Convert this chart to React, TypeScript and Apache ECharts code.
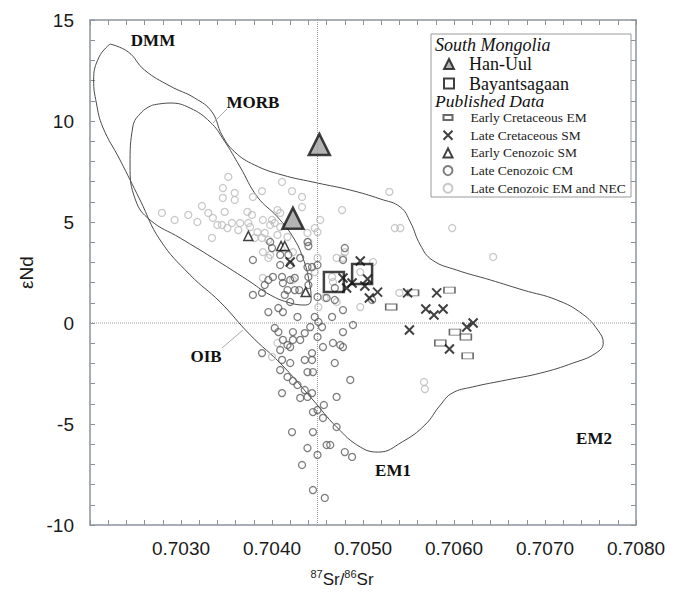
import React, { useEffect, useRef } from "react";
import * as echarts from "echarts";

const X_MIN = 0.702;
const X_MAX = 0.708;
const X_STEP = 0.001;
const Y_MIN = -10;
const Y_MAX = 15;
const Y_STEP = 5;

const hanUul = [
  [0.70452, 8.84],
  [0.70423, 5.18],
];
const bayantsagaan = [
  [0.70468, 2.03],
  [0.70499, 2.43],
];
const earlyCretaceousEM = [
  [0.70555, 1.49], [0.70595, 1.63], [0.70531, 0.79], [0.70601, -0.45],
  [0.70613, -0.69], [0.70585, -0.99], [0.70615, -1.63],
];
const lateCretaceousSM = [
  [0.7042, 3.02], [0.70478, 2.23], [0.70482, 1.73], [0.70488, 1.98], [0.70497, 3.07],
  [0.70505, 2.18], [0.70502, 1.83], [0.70507, 1.24], [0.70516, 1.53], [0.70549, 1.49],
  [0.70581, 1.49], [0.70569, 0.69], [0.70578, 0.4], [0.70588, 0.69], [0.70551, -0.35],
  [0.70614, -0.2], [0.70621, 0.0], [0.70595, -1.29],
];
const earlyCenozoicSM = [
  [0.70374, 4.31], [0.7041, 3.81], [0.70414, 3.81], [0.70437, 1.53],
];
const lateCenozoicCM = [
  [0.70398, 4.01], [0.704, 3.71], [0.70409, 3.37], [0.70418, 3.37], [0.70379, 3.12],
  [0.70431, 3.22], [0.70439, 4.01], [0.7044, 3.81], [0.70409, 2.87], [0.7042, 2.87],
  [0.70439, 2.77], [0.70444, 2.77], [0.7045, 2.87], [0.7044, 2.28], [0.70401, 2.28],
  [0.70396, 2.13], [0.70392, 1.88], [0.70411, 2.28], [0.70412, 1.98], [0.7042, 2.13],
  [0.70425, 2.23], [0.70425, 1.63], [0.7043, 1.63], [0.70417, 1.63], [0.70379, 1.39],
  [0.70389, 1.49], [0.70414, 1.39], [0.7044, 1.88], [0.7045, 1.29], [0.7042, 1.04],
  [0.70407, 0.74], [0.70396, 0.54], [0.70412, 0.54], [0.70428, 0.3], [0.70447, 0.3],
  [0.70451, 0.05], [0.70455, -0.2], [0.70466, 0.3], [0.70478, 0.64], [0.70489, -0.1],
  [0.70478, -0.45], [0.70403, -0.25], [0.70407, -0.45], [0.70423, -0.45], [0.70436, -0.5],
  [0.70442, -0.2], [0.7045, -0.69], [0.70456, -1.19], [0.70412, -0.84], [0.70417, -1.09],
  [0.70423, -0.84], [0.70431, -0.84], [0.70467, -0.99], [0.70475, -1.09], [0.7048, 3.71],
  [0.70478, 3.12], [0.7046, 1.24], [0.70469, 1.14], [0.70469, 1.73], [0.70389, -1.49],
  [0.70409, -1.34], [0.70411, -1.83], [0.7042, -1.98], [0.7042, -1.19], [0.70436, -1.83],
  [0.70444, -1.83], [0.70444, -1.49], [0.70439, -2.43], [0.70445, -2.43], [0.70478, -1.19],
  [0.70469, -1.98], [0.70409, -2.33], [0.70417, -2.67], [0.70423, -2.87], [0.70428, -3.07],
  [0.70436, -3.32], [0.70411, -3.47], [0.70431, -3.71], [0.70439, -3.66], [0.70444, -3.47],
  [0.70457, -4.06], [0.7045, -4.31], [0.70445, -4.41], [0.70471, -3.66], [0.70486, -2.82],
  [0.70456, -4.7], [0.70471, -5.15], [0.70422, -5.4], [0.70445, -5.4], [0.70439, -6.19],
  [0.7046, -6.04], [0.70464, -6.04], [0.7045, -6.53], [0.7048, -6.39], [0.70488, -6.63],
  [0.70433, -7.03], [0.70445, -8.27], [0.70458, -8.66], [0.7051, 1.14],
];
const lateCenozoicEMNEC = [
  [0.70308, 5.35], [0.70346, 6.68], [0.70359, 6.44], [0.70346, 6.19], [0.70359, 6.09],
  [0.70389, 6.53], [0.70379, 6.24], [0.70411, 6.98], [0.70422, 6.53], [0.70433, 6.24],
  [0.70433, 5.74], [0.7033, 5.45], [0.70335, 5.2], [0.70348, 5.5], [0.70373, 5.5],
  [0.70378, 5.35], [0.70406, 5.59], [0.70409, 5.45], [0.7034, 4.85], [0.70345, 4.85],
  [0.70356, 4.95], [0.70365, 4.95], [0.70351, 4.7], [0.70374, 4.95], [0.70376, 4.75],
  [0.7039, 5.1], [0.704, 5.1], [0.70398, 4.85], [0.70403, 4.95], [0.70409, 4.75],
  [0.70453, 5.1], [0.70447, 4.7], [0.7045, 4.5], [0.70334, 4.21], [0.70363, 4.6],
  [0.70384, 4.5], [0.70381, 4.21], [0.70389, 4.21], [0.70392, 4.46], [0.70396, 4.11],
  [0.70406, 4.36], [0.70417, 4.26], [0.70439, 4.46], [0.7044, 4.01], [0.70477, 5.59],
  [0.7039, 3.51], [0.70398, 3.37], [0.70396, 3.22], [0.70423, 3.51], [0.7045, 3.22],
  [0.7048, 3.51], [0.70478, 3.22], [0.70471, 3.22], [0.70447, 2.52], [0.70423, 2.13],
  [0.7039, 2.23], [0.70451, 0.79], [0.70458, 1.24], [0.70471, 1.04], [0.70466, 2.28],
  [0.70467, 2.03], [0.70406, -0.99], [0.70529, 6.49], [0.70535, 4.7], [0.70541, 4.7],
  [0.70598, 4.7], [0.70643, 3.27], [0.70511, 3.02], [0.70497, 2.52], [0.70497, 0.79],
  [0.7054, 1.49], [0.70567, -2.92], [0.70568, -3.27], [0.70279, 5.45], [0.70293, 5.1],
  [0.70318, 5.0], [0.70352, 7.23], [0.70323, 5.79], [0.704, -1.68],
];
const oibEnvelope = [
  [0.70222, 13.81], [0.70242, 13.42], [0.7026, 12.52], [0.70288, 11.73], [0.70315, 11.14],
  [0.70334, 10.45], [0.70345, 9.31], [0.70359, 8.47], [0.70381, 7.82], [0.70411, 7.33],
  [0.7045, 6.93], [0.70486, 6.58], [0.70519, 6.14], [0.70541, 5.74], [0.70552, 5.0],
  [0.70563, 3.86], [0.70576, 3.12], [0.70603, 2.62], [0.7064, 2.13], [0.70676, 1.63],
  [0.70713, 1.14], [0.70741, 0.45], [0.70758, -0.35], [0.70764, -0.99], [0.70756, -1.49],
  [0.70731, -1.98], [0.70695, -2.48], [0.70658, -2.82], [0.7062, -3.17], [0.70598, -3.47],
  [0.70585, -4.06], [0.70568, -5.05], [0.70543, -5.89], [0.70517, -6.39], [0.70497, -6.14],
  [0.70471, -5.15], [0.70445, -3.81], [0.70411, -2.08], [0.70376, -0.59], [0.70343, 1.04],
  [0.7031, 2.38], [0.70277, 4.11], [0.70255, 6.09], [0.70233, 8.07], [0.70214, 9.7],
  [0.70207, 10.89], [0.70204, 12.03], [0.7021, 13.17], [0.70222, 13.81],
];
const morbField = [
  [0.70269, 10.79], [0.70288, 10.89], [0.7031, 10.64], [0.70332, 9.95], [0.70347, 9.06],
  [0.70365, 7.72], [0.70384, 6.24], [0.70406, 5.25], [0.70423, 4.26], [0.70434, 3.22],
  [0.70441, 2.03], [0.70443, 1.14], [0.70437, 0.89], [0.7042, 0.99], [0.70398, 1.39],
  [0.70373, 2.13], [0.70335, 3.22], [0.70299, 4.21], [0.70266, 5.1], [0.7025, 6.09],
  [0.70244, 7.82], [0.70247, 9.7], [0.70257, 10.45], [0.70269, 10.79],
];
const refSr = 0.7045;
const refNd = 0;

const SERIF = "'Liberation Serif', 'Times New Roman', serif";
const SANS = "'Liberation Sans', Arial, sans-serif";
const AXIS_COLOR = "#8d939d";
const CROSS = "path://M1,1L9,9M9,1L1,9";
const FLAT_RECT = "path://M0,0L11,0L11,6L0,6Z";

function xAxisDef(top: boolean) {
  return {
    type: "value",
    position: top ? "top" : "bottom",
    min: X_MIN,
    max: X_MAX,
    interval: X_STEP,
    axisLine: { show: true, onZero: false, lineStyle: { color: AXIS_COLOR, width: 1.5 } },
    axisTick: { show: true, inside: true, length: 5, lineStyle: { color: AXIS_COLOR, width: 1 } },
    minorTick: { show: true, splitNumber: 5, length: 5, lineStyle: { color: AXIS_COLOR, width: 1 } },
    splitLine: { show: false },
    minorSplitLine: { show: false },
    axisLabel: top
      ? { show: false }
      : {
          show: true,
          margin: 14,
          fontSize: 19,
          color: "#1a1a1a",
          fontFamily: SANS,
          formatter: (v: number) => (v < X_MIN + X_STEP / 2 ? "" : v.toFixed(4)),
        },
  };
}

function yAxisDef(right: boolean) {
  return {
    type: "value",
    position: right ? "right" : "left",
    min: Y_MIN,
    max: Y_MAX,
    interval: Y_STEP,
    name: right ? "" : "εNd",
    nameLocation: "middle",
    nameGap: 52,
    nameTextStyle: { fontSize: 19, fontFamily: SANS, color: "#1a1a1a" },
    axisLine: { show: true, onZero: false, lineStyle: { color: AXIS_COLOR, width: 1.5 } },
    axisTick: { show: true, inside: true, length: 5, lineStyle: { color: AXIS_COLOR, width: 1 } },
    minorTick: { show: true, splitNumber: 5, length: 5, lineStyle: { color: AXIS_COLOR, width: 1 } },
    splitLine: { show: false },
    minorSplitLine: { show: false },
    axisLabel: right
      ? { show: false }
      : { show: true, margin: 16, fontSize: 19, color: "#1a1a1a", fontFamily: SANS },
  };
}

function scatter(name: string, data: number[][], symbol: string, size: any, itemStyle: any, z: number) {
  return { type: "scatter", name, data, symbol, symbolSize: size, itemStyle, z, silent: true };
}

function fieldLine(data: number[][]) {
  return {
    type: "line",
    data,
    smooth: 0.45,
    symbol: "none",
    lineStyle: { color: "#4a4a4a", width: 1 },
    z: 1,
    silent: true,
  };
}

function refLine(data: number[][]) {
  return {
    type: "line",
    data,
    symbol: "none",
    lineStyle: { color: "#9a9a9a", width: 1, type: "dotted" },
    z: 1,
    silent: true,
  };
}

function fieldLabel(text: string, x: number, y: number) {
  return {
    type: "text",
    x,
    y,
    style: {
      text,
      fontFamily: SERIF,
      fontWeight: "bold",
      fontSize: 17,
      fill: "#111",
      align: "center",
      verticalAlign: "middle",
    },
    z: 10,
  };
}

export default function App() {
  const ref = useRef<HTMLDivElement>(null);
  useEffect(() => {
    if (!ref.current) return;
    const chart = echarts.init(ref.current, undefined, { renderer: "svg" });
    const option: any = {
      animation: false,
      backgroundColor: "#fff",
      grid: { left: 90, right: 50, top: 20, bottom: 70 },
      xAxis: [xAxisDef(false), xAxisDef(true)],
      yAxis: [yAxisDef(false), yAxisDef(true)],
      legend: [
        {
          orient: "vertical",
          left: 443,
          top: 55,
          padding: 0,
          itemWidth: 10,
          itemHeight: 10,
          itemGap: 1.5,
          selectedMode: false,
          textStyle: { fontFamily: SERIF, fontSize: 18, color: "#111", lineHeight: 16, padding: [0, 0, 0, 10] },
          data: ["Han-Uul", "Bayantsagaan"],
        },
        {
          orient: "vertical",
          left: 442.5,
          top: 110.5,
          padding: 0,
          itemWidth: 9,
          itemHeight: 9,
          itemGap: 3.7,
          selectedMode: false,
          textStyle: { fontFamily: SERIF, fontSize: 13.5, color: "#222", padding: [0, 0, 0, 13] },
          data: [
            "Early Cretaceous EM",
            "Late Cretaceous SM",
            "Early Cenozoic SM",
            "Late Cenozoic CM",
            "Late Cenozoic EM and NEC",
          ],
        },
      ],
      graphic: [
        {
          type: "rect",
          shape: { x: 431, y: 34, width: 200, height: 163 },
          style: { fill: "#fff", stroke: "#9a9a9a", lineWidth: 1 },
          z: 0,
        },
        {
          type: "text",
          x: 435,
          y: 45,
          style: { text: "South Mongolia", fontFamily: SERIF, fontStyle: "italic", fontSize: 18, fill: "#111", verticalAlign: "middle" },
          z: 10,
        },
        {
          type: "text",
          x: 435,
          y: 101,
          style: { text: "Published Data", fontFamily: SERIF, fontStyle: "italic", fontSize: 17.5, fill: "#111", verticalAlign: "middle" },
          z: 10,
        },
        fieldLabel("DMM", 153, 40),
        fieldLabel("MORB", 253, 102),
        fieldLabel("OIB", 206, 356),
        fieldLabel("EM1", 393, 470),
        fieldLabel("EM2", 594, 438),
        {
          type: "line",
          shape: { x1: 227, y1: 109, x2: 213, y2: 123 },
          style: { stroke: "#aaa", lineWidth: 1 },
          z: 10,
        },
        {
          type: "line",
          shape: { x1: 222, y1: 348, x2: 243, y2: 330 },
          style: { stroke: "#aaa", lineWidth: 1 },
          z: 10,
        },
        {
          type: "text",
          x: 342,
          y: 578,
          style: {
            text: "{s|87}{n|Sr/}{s|86}{n|Sr}",
            align: "center",
            verticalAlign: "middle",
            fill: "#1a1a1a",
            fontFamily: SANS,
            rich: {
              s: { fontSize: 11, lineHeight: 12, verticalAlign: "top", fontFamily: SANS, fill: "#1a1a1a" },
              n: { fontSize: 17, lineHeight: 20, verticalAlign: "bottom", fontFamily: SANS, fill: "#1a1a1a" },
            },
          },
          z: 10,
        },
      ],
      series: [
        scatter("Late Cenozoic EM and NEC", lateCenozoicEMNEC, "circle", 7,
          { color: "rgba(0,0,0,0)", borderColor: "#bcbcbc", borderWidth: 1.3 }, 2),
        scatter("Late Cenozoic CM", lateCenozoicCM, "circle", 7,
          { color: "rgba(0,0,0,0)", borderColor: "#5e5e5e", borderWidth: 1.3 }, 3),
        fieldLine(oibEnvelope),
        fieldLine(morbField),
        refLine([[refSr, Y_MIN], [refSr, Y_MAX]]),
        refLine([[X_MIN, refNd], [X_MAX, refNd]]),
        scatter("Early Cretaceous EM", earlyCretaceousEM, FLAT_RECT, [11, 6],
          { color: "#fff", borderColor: "#444", borderWidth: 1.2 }, 4),
        scatter("Late Cretaceous SM", lateCretaceousSM, CROSS, 9,
          { color: "rgba(0,0,0,0)", borderColor: "#111", borderWidth: 2 }, 5),
        scatter("Early Cenozoic SM", earlyCenozoicSM, "triangle", 9,
          { color: "#fff", borderColor: "#111", borderWidth: 1.5 }, 5),
        scatter("Han-Uul", hanUul, "triangle", 21,
          { color: "#a0a0a0", borderColor: "#111", borderWidth: 2.5 }, 6),
        scatter("Bayantsagaan", bayantsagaan, "rect", 20,
          { color: "rgba(0,0,0,0)", borderColor: "#111", borderWidth: 2.5 }, 6),
      ],
    };
    chart.setOption(option);
    return () => chart.dispose();
  }, []);
  return (
    <div
      ref={ref}
      style={{ position: "absolute", left: 0, top: 0, width: 686, height: 595 }}
    />
  );
}
